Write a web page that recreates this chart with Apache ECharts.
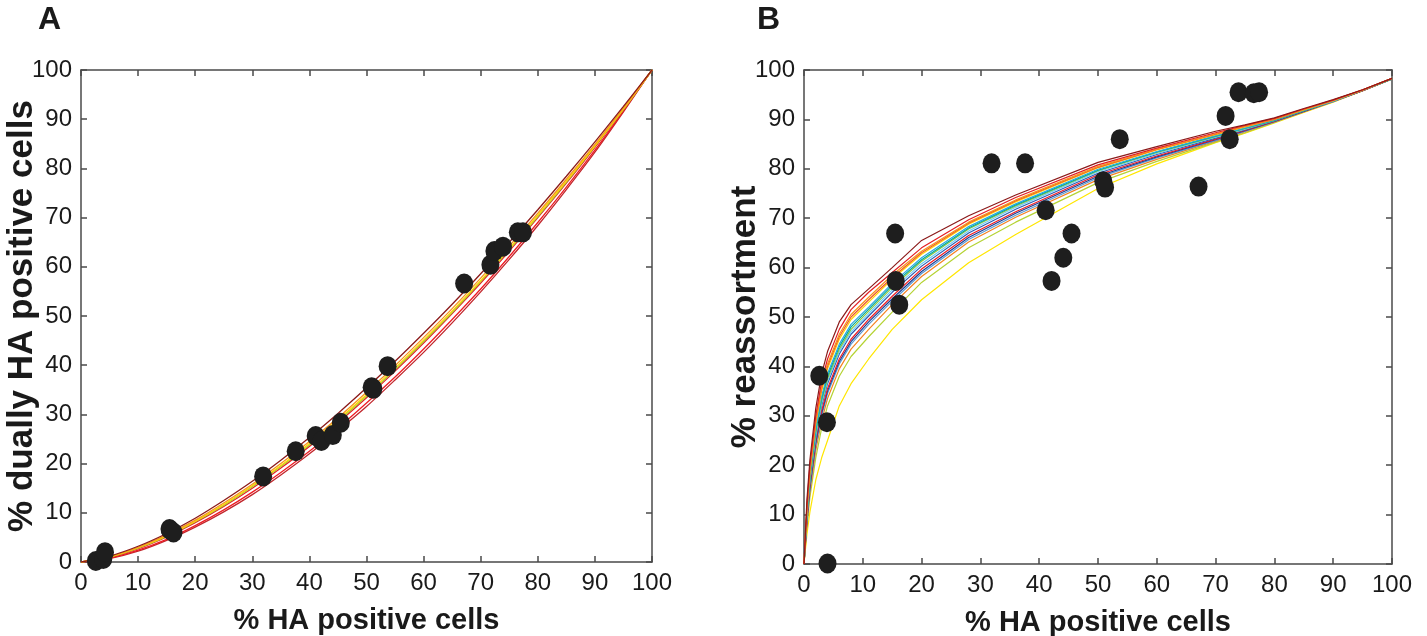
<!DOCTYPE html>
<html>
<head>
<meta charset="utf-8">
<script src="https://cdn.jsdelivr.net/npm/echarts@6/dist/echarts.min.js"></script>
<style>
  html, body { margin: 0; padding: 0; background: #ffffff; }
  #chart { width: 1427px; height: 636px; }
</style>
</head>
<body>
<div id="chart"></div>
<script>
// ---------- Data ----------
const tickLabels = ['0','10','20','30','40','50','60','70','80','90','100'];

// Panel A: model curves (% dually HA positive vs % HA positive)
const xA = [0,5,10,15,20,25,30,35,40,45,50,55,60,65,70,75,80,85,90,95,100];
const curveA1 = [0,1.2,3.2,5.8,8.9,12.5,16.4,20.7,25.3,30.2,35.4,40.8,46.5,52.4,58.6,65.0,71.6,78.4,85.4,92.6,100];
const curveA2 = [0,1.1,3.0,5.5,8.5,12.0,15.8,20.0,24.5,29.3,34.5,39.9,45.6,51.5,57.7,64.2,70.9,77.8,84.9,92.3,100];
const curveA3 = [0,1.0,2.9,5.3,8.3,11.7,15.5,19.6,24.1,28.9,34.0,39.4,45.1,51.0,57.2,63.7,70.5,77.4,84.6,92.1,100];
const curveA4 = [0,0.95,2.7,5.1,8.0,11.3,15.0,19.1,23.5,28.3,33.4,38.8,44.5,50.5,56.7,63.2,70.0,77.0,84.3,92.0,100];
const curveA5 = [0,1.0,2.8,5.2,8.2,11.5,15.3,19.4,23.8,28.6,33.7,39.1,44.8,50.7,57.0,63.5,70.2,77.2,84.5,92.0,100];
const curveA6 = [0,0.8,2.4,4.6,7.4,10.6,14.2,18.2,22.5,27.2,32.3,37.6,43.3,49.3,55.5,62.1,69.0,76.2,83.7,91.7,100];
const curveA7 = [0,0.7,2.2,4.4,7.1,10.2,13.7,17.7,22.0,26.7,31.6,37.0,42.6,48.6,54.9,61.5,68.4,75.7,83.3,91.5,100];

// Panel B: model curves (% reassortment vs % HA positive)
const xB = [0,0.5,1,2,3,4,6,8,11,15,20,28,36,50,60,70,75,80,85,90,95,100];
const curveB1  = [0,13,21,31.5,38.5,43,49,52.5,55.7,60,65.5,70.5,74.7,81.3,84.5,87.6,88.9,90.3,92.2,94,96,98.3];
const curveB2  = [0,12,20,30,37,41.5,47.5,51.5,55,59,64,69.7,74.2,80.8,84.2,87.3,88.8,90.2,92.1,93.9,96,98.3];
const curveB3  = [0,11.5,19,29,36,40.5,46.5,50.5,54,58.5,63.3,69.2,73.7,80.5,84,87.1,88.6,90.1,92,93.9,96,98.3];
const curveB4  = [0,11,18.5,28.5,35,39.5,45.5,49.5,53,57.7,62.7,68.8,73.3,80.2,83.8,86.9,88.5,90,91.9,93.8,95.9,98.3];
const curveB5  = [0,10.5,18,27.5,34,38.5,44.5,48.5,52,56.8,62,68.3,72.9,79.9,83.5,86.7,88.3,89.9,91.9,93.8,95.9,98.3];
const curveB6  = [0,10,17,26.5,33,37.5,43.5,47.5,51.2,56,61.3,67.8,72.5,79.6,83.3,86.5,88.1,89.8,91.8,93.8,95.9,98.2];
const curveB7  = [0,10.2,17.5,27,33.5,38,44,48,51.6,56.4,61.6,68,72.7,79.7,83.4,86.6,88.2,89.8,91.8,93.8,95.9,98.2];
const curveB8  = [0,9.5,16.5,25.5,32,36.5,42.5,46.5,50.2,55,60.3,67,71.8,79.1,82.9,86.2,87.9,89.7,91.7,93.7,95.9,98.2];
const curveB9  = [0,9,16,25,31,35.5,41.5,45.5,49.5,54.2,59.7,66.5,71.3,78.8,82.6,86,87.8,89.6,91.7,93.7,95.8,98.2];
const curveB10 = [0,8.8,15.5,24.5,30.5,35,41,45,49,53.7,59.2,66.1,71,78.5,82.4,85.9,87.7,89.6,91.6,93.7,95.8,98.2];
const curveB11 = [0,8.5,15,24,30,34.5,40.5,44.5,48.5,53.2,58.8,65.7,70.6,78.2,82.2,85.7,87.6,89.5,91.6,93.6,95.8,98.2];
const curveB12 = [0,8,14.5,23,29,33.5,39.5,43.5,47.5,52.5,58.2,65.2,70.2,77.8,81.9,85.6,87.5,89.5,91.5,93.6,95.8,98.2];
const curveB13 = [0,7.5,13.5,21.5,27.5,32,38,42,46,51,57,64,69.2,77.2,81.5,85.4,87.3,89.4,91.5,93.6,95.8,98.2];
const curveB14 = [0,6,10.5,17,21.5,25,32,36.5,41.5,47.5,53.5,61,66.7,76,81,85.3,87.2,89.3,91.4,93.5,95.8,98.2];
const curveB15 = [0,11.2,18.8,28.8,35.5,40,46,50,53.5,58,63,69,73.5,80.3,83.9,87,88.6,90,92,93.9,95.9,98.3];
const curveB16 = [0,9.8,17,26,32.5,37,43,47,50.7,55.5,60.8,67.4,72.2,79.4,83.1,86.4,88,89.8,91.8,93.7,95.9,98.2];

// Experimental points (same % HA positive values in both panels)
const haPositive   = [2.6,3.9,4.2,15.5,15.6,16.2,31.9,37.6,41.1,42.1,44.1,45.5,50.9,51.2,53.7,67.1,71.7,72.4,73.9,76.5,77.4];
const duallyHA     = [0.2,0.6,2.0,6.7,6.5,6.0,17.4,22.5,25.6,24.6,25.8,28.3,35.5,35.2,39.8,56.6,60.4,63.2,64.1,67.0,67.0];
const haPositiveB  = [2.6,3.9,4.0,15.5,15.6,16.2,31.9,37.6,41.1,42.1,44.1,45.5,50.9,51.2,53.7,67.1,71.7,72.4,73.9,76.5,77.4];
const reassortment = [38.1,28.7,0.1,66.9,57.3,52.5,81.1,81.1,71.6,57.3,62.0,66.9,77.5,76.2,86.0,76.4,90.7,86.0,95.5,95.3,95.5];

// ---------- Chart ----------
const zip = (xs, ys) => xs.map((x, i) => [x, ys[i]]);

const curvesA = [
  { d: curveA7, c: '#c1272d' },
  { d: curveA6, c: '#ed1c24' },
  { d: curveA4, c: '#e31e24' },
  { d: curveA5, c: '#a6ce39' },
  { d: curveA3, c: '#ffd400' },
  { d: curveA2, c: '#f7941d' },
  { d: curveA1, c: '#8b1a1a' }
];
const curvesB = [
  { d: curveB14, c: '#ffe600' },
  { d: curveB13, c: '#b5d334' },
  { d: curveB12, c: '#f58220' },
  { d: curveB11, c: '#5b9bd5' },
  { d: curveB10, c: '#1c3f94' },
  { d: curveB9,  c: '#ed1c24' },
  { d: curveB8,  c: '#2b5bb5' },
  { d: curveB16, c: '#6dcff6' },
  { d: curveB6,  c: '#8cc63f' },
  { d: curveB7,  c: '#00a99d' },
  { d: curveB5,  c: '#29abe2' },
  { d: curveB4,  c: '#ffd400' },
  { d: curveB15, c: '#f15a29' },
  { d: curveB3,  c: '#f7941d' },
  { d: curveB2,  c: '#e31e24' },
  { d: curveB1,  c: '#8b1a1a' }
];

const axisColor = '#4a4a4a';
const font = "'Liberation Sans', Arial, Helvetica, sans-serif";

function baseAxis(gridIndex, position, showLabel) {
  return {
    type: 'value', gridIndex: gridIndex, position: position,
    min: 0, max: 100, interval: 10,
    axisLine: { show: true, onZero: false, lineStyle: { color: axisColor, width: 1.5 } },
    axisTick: { show: true, inside: true, length: 6, lineStyle: { color: axisColor, width: 1.5 } },
    splitLine: { show: false },
    axisLabel: {
      show: showLabel, fontFamily: font, fontSize: 24, color: '#1a1a1a', margin: 9,
      showMinLabel: true, showMaxLabel: true,
      formatter: function (v) { return tickLabels[Math.round(v / 10)]; }
    }
  };
}

const xTitle = { fontFamily: font, fontSize: 29, fontWeight: 'bold', color: '#1a1a1a' };
const yTitle = { fontFamily: font, fontSize: 35, fontWeight: 'bold', color: '#1a1a1a' };

const xAxes = [
  Object.assign(baseAxis(0, 'bottom', true), { name: '% HA positive cells', nameLocation: 'middle', nameGap: 44, nameMoveOverlap: false, nameTextStyle: xTitle }),
  baseAxis(0, 'top', false),
  Object.assign(baseAxis(1, 'bottom', true), { name: '% HA positive cells', nameLocation: 'middle', nameGap: 44, nameMoveOverlap: false, nameTextStyle: xTitle }),
  baseAxis(1, 'top', false)
];
const yAxes = [
  Object.assign(baseAxis(0, 'left', true), { name: '% dually HA positive cells', nameLocation: 'middle', nameGap: 41, nameMoveOverlap: false, nameTextStyle: yTitle }),
  baseAxis(0, 'right', false),
  Object.assign(baseAxis(1, 'left', true), { name: '% reassortment', nameLocation: 'middle', nameGap: 41, nameMoveOverlap: false, nameTextStyle: yTitle }),
  baseAxis(1, 'right', false)
];

const series = [];
curvesA.forEach(function (c) {
  series.push({
    type: 'line', xAxisIndex: 0, yAxisIndex: 0, data: zip(xA, c.d),
    showSymbol: false, symbol: 'none', smooth: 0.3, lineStyle: { color: c.c, width: 1.3 }, z: 2
  });
});
curvesB.forEach(function (c) {
  series.push({
    type: 'line', xAxisIndex: 2, yAxisIndex: 2, data: zip(xB, c.d),
    showSymbol: false, symbol: 'none', smooth: false, lineStyle: { color: c.c, width: 1.2 }, z: 2
  });
});
series.push({
  type: 'scatter', xAxisIndex: 0, yAxisIndex: 0, data: zip(haPositive, duallyHA),
  symbol: 'circle', symbolSize: [18, 20], itemStyle: { color: '#1e1e1e', opacity: 1 }, z: 5
});
series.push({
  type: 'scatter', xAxisIndex: 2, yAxisIndex: 2, data: zip(haPositiveB, reassortment),
  symbol: 'circle', symbolSize: [18, 20], itemStyle: { color: '#1e1e1e', opacity: 1 }, z: 5
});

const chart = echarts.init(document.getElementById('chart'), null, { renderer: 'canvas' });
chart.setOption({
  animation: false,
  backgroundColor: '#ffffff',
  grid: [
    { left: 81, top: 70, width: 571, height: 492, containLabel: false, outerBoundsMode: 'none' },
    { left: 804, top: 70, width: 588, height: 494, containLabel: false, outerBoundsMode: 'none' }
  ],
  xAxis: xAxes,
  yAxis: yAxes,
  graphic: [
    { type: 'text', left: 38, top: 4, style: { text: 'A', fontFamily: font, fontSize: 32, fontWeight: 'bold', fill: '#1a1a1a' } },
    { type: 'text', left: 757, top: 4, style: { text: 'B', fontFamily: font, fontSize: 32, fontWeight: 'bold', fill: '#1a1a1a' } }
  ],
  series: series
});
</script>
</body>
</html>
